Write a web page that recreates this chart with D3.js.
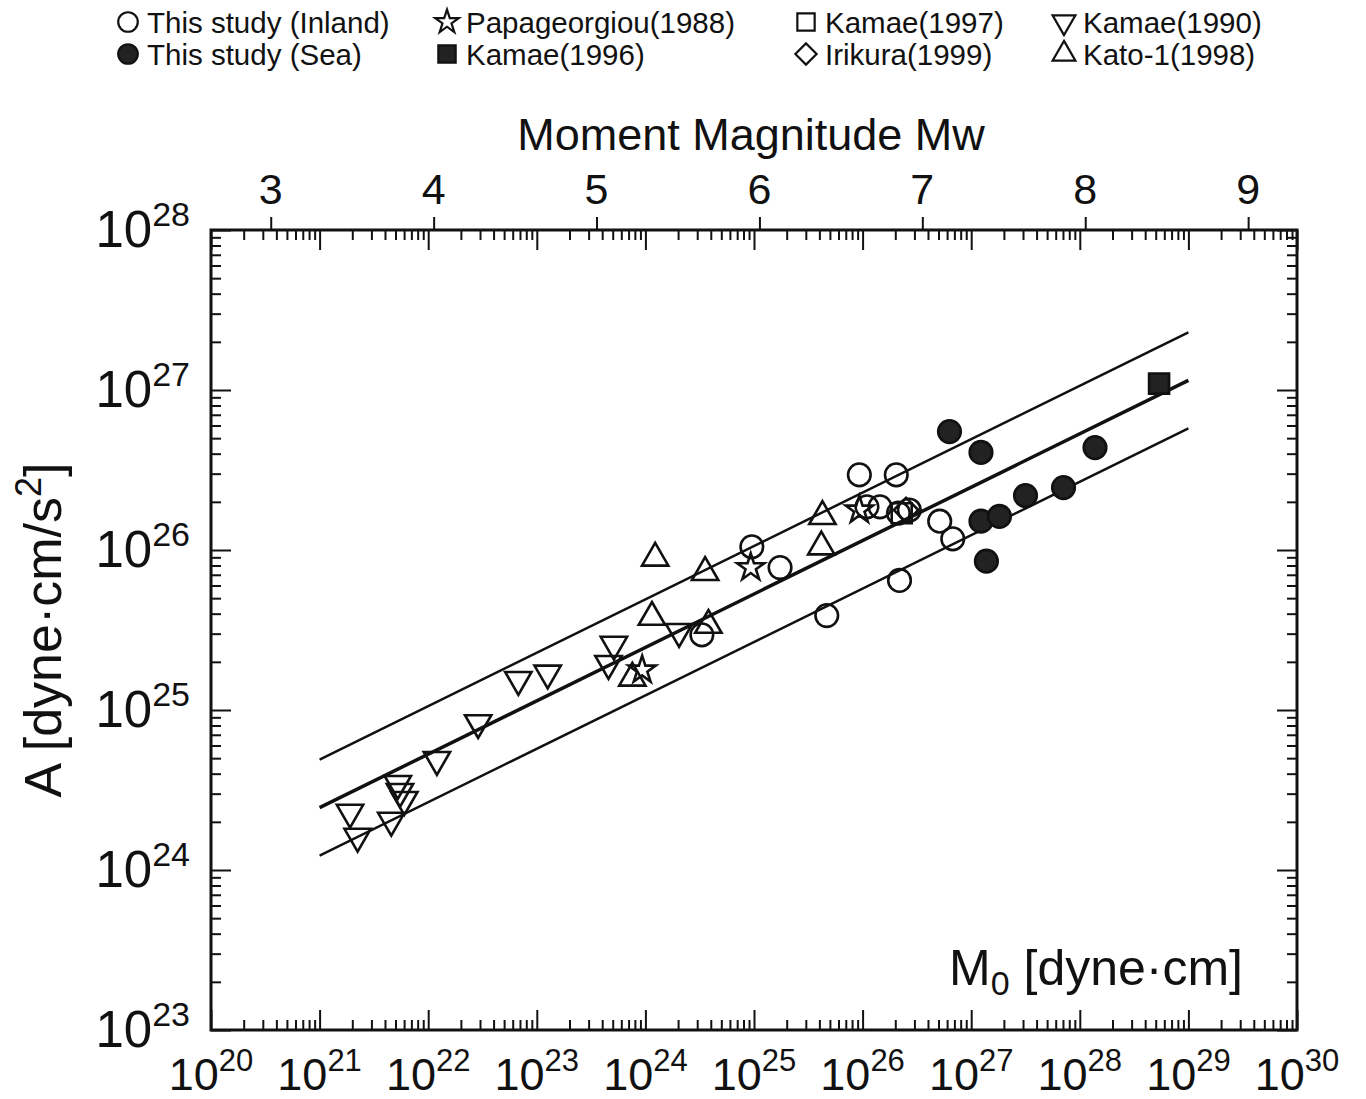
<!doctype html>
<html lang="en">
<head>
<meta charset="utf-8">
<title>A vs M0</title>
<style>
    body { margin: 0; background: #fff; }
    svg { display: block; font-family: 'Liberation Sans', Arial, sans-serif; }
</style>
</head>
<body>
<svg id="chart" width="1366" height="1099"></svg>
<script src="https://d3js.org/d3.v7.min.js"></script>
<script>
    // all values are log10 exponents
    var inlandM0 = [24.52, 24.98, 25.24, 25.67, 25.97, 26.31, 26.04, 26.16, 26.34, 26.71, 26.83, 26.33, 26.43];
    var inlandA  = [25.47, 26.02, 25.89, 25.59, 26.47, 26.47, 26.27, 26.27, 25.81, 26.18, 26.07, 26.23, 26.25];
    var seaM0 = [26.80, 27.09, 28.14, 27.50, 27.85, 27.09, 27.26, 27.14];
    var seaA  = [26.74, 26.61, 26.64, 26.34, 26.39, 26.18, 26.21, 25.93];
    var papaM0 = [23.97, 24.97, 25.97];
    var papaA  = [25.25, 25.89, 26.25];
    var k96M0 = [28.73];
    var k96A  = [27.04];
    var k97M0 = [26.36];
    var k97A  = [26.23];
    var irikuraM0 = [26.40];
    var irikuraA  = [26.25];
    var k90M0 = [21.28, 21.35, 21.66, 21.72, 21.74, 21.78, 22.08, 22.46, 22.83, 23.10, 23.66, 23.71, 24.31];
    var k90A  = [24.36, 24.21, 24.31, 24.54, 24.49, 24.44, 24.69, 24.92, 25.19, 25.23, 25.29, 25.41, 25.49];
    var katoM0 = [23.88, 24.06, 24.09, 24.55, 24.58, 25.63, 25.62];
    var katoA  = [25.20, 25.58, 25.95, 25.86, 25.53, 26.21, 26.02];

    // fitted line and the factor-of-two band, end points
    var fitM0 = [21, 29];
    var fitMid = [24.39, 27.06];
    var fitUpper = [24.69, 27.36];
    var fitLower = [24.09, 26.76];

    var xDecades = [20, 21, 22, 23, 24, 25, 26, 27, 28, 29, 30];
    var yDecades = [23, 24, 25, 26, 27, 28];
    var mwTicks = [3, 4, 5, 6, 7, 8, 9];

    var series = [
        { label: "This study (Inland)", shape: "circle", fill: false, m0: inlandM0, a: inlandA },
        { label: "This study (Sea)", shape: "circle", fill: true, m0: seaM0, a: seaA },
        { label: "Papageorgiou(1988)", shape: "star", fill: false, m0: papaM0, a: papaA },
        { label: "Kamae(1996)", shape: "square", fill: true, m0: k96M0, a: k96A },
        { label: "Kamae(1997)", shape: "square", fill: false, m0: k97M0, a: k97A },
        { label: "Irikura(1999)", shape: "diamond", fill: false, m0: irikuraM0, a: irikuraA },
        { label: "Kamae(1990)", shape: "triDown", fill: false, m0: k90M0, a: k90A },
        { label: "Kato-1(1998)", shape: "triUp", fill: false, m0: katoM0, a: katoA }
    ];

    var pLeft = 211, pRight = 1297, pTop = 230, pBottom = 1030;

    var svg = d3.select("#chart");
    svg.append("rect").attr("width", 1366).attr("height", 1099).attr("fill", "#fff");

    var x = d3.scaleLog().domain([1e20, 1e30]).range([pLeft, pRight]);
    var y = d3.scaleLog().domain([1e23, 1e28]).range([pBottom, pTop]);
    var p10 = function (v) { return Math.pow(10, v); };

    function isMajor(v) {
        var l = Math.log10(v);
        return Math.abs(l - Math.round(l)) < 1e-6;
    }

    function symbolPath(shape, scale) {
        scale = scale || 1;
        if (shape == "circle") return d3.symbol(d3.symbolCircle, 400 * scale)();
        if (shape == "star") return d3.symbol(d3.symbolStar, 230 * scale)();
        if (shape == "square") return d3.symbol(d3.symbolSquare, 400 * scale)();
        if (shape == "diamond") return d3.symbol(d3.symbolSquare, 300 * scale)();
        return d3.symbol(d3.symbolTriangle, 300 * scale)();
    }
    function symbolRotate(shape) {
        if (shape == "triDown") return " rotate(180)";
        if (shape == "diamond") return " rotate(45)";
        return "";
    }

    // ticks
    var xt = x.ticks(60);
    var yt = y.ticks(60);

    var gb = svg.append("g").attr("transform", "translate(0," + pBottom + ")")
        .call(d3.axisBottom(x).tickValues(xt).tickSize(-10).tickFormat("").tickSizeOuter(0));
    gb.selectAll(".tick line").attr("y2", function (d) { return isMajor(d) ? -20 : -10; });

    var gt = svg.append("g").attr("transform", "translate(0," + pTop + ")")
        .call(d3.axisTop(x).tickValues(xt).tickSize(-10).tickFormat("").tickSizeOuter(0));
    gt.selectAll(".tick line").attr("y2", function (d) { return isMajor(d) ? 20 : 10; });

    var gl = svg.append("g").attr("transform", "translate(" + pLeft + ",0)")
        .call(d3.axisLeft(y).tickValues(yt).tickSize(-10).tickFormat("").tickSizeOuter(0));
    gl.selectAll(".tick line").attr("x2", function (d) { return isMajor(d) ? 20 : 10; });

    var gr = svg.append("g").attr("transform", "translate(" + pRight + ",0)")
        .call(d3.axisRight(y).tickValues(yt).tickSize(-10).tickFormat("").tickSizeOuter(0));
    gr.selectAll(".tick line").attr("x2", function (d) { return isMajor(d) ? -20 : -10; });

    // moment magnitude on top, Mw = 2/3 log M0 - 10.7
    var mw = d3.scaleLinear().domain([3, 9])
        .range([x(p10(1.5 * (3 + 10.7))), x(p10(1.5 * (9 + 10.7)))]);
    svg.append("g").attr("transform", "translate(0," + pTop + ")")
        .call(d3.axisTop(mw).tickValues(mwTicks).tickSize(13).tickFormat("").tickSizeOuter(0));

    svg.selectAll(".domain").remove();
    svg.selectAll(".tick line").attr("stroke", "#111").attr("stroke-width", 2);

    svg.append("rect")
        .attr("x", pLeft).attr("y", pTop)
        .attr("width", pRight - pLeft).attr("height", pBottom - pTop)
        .attr("fill", "none").attr("stroke", "#111").attr("stroke-width", 3);

    svg.selectAll(".mwlab").data(mwTicks).join("text")
        .attr("x", function (d) { return mw(d); })
        .attr("y", 204)
        .attr("text-anchor", "middle")
        .attr("font-size", 43)
        .attr("fill", "#111")
        .text(function (d) { return d; });

    // decade labels with superscripts
    svg.selectAll(".xlab").data(xDecades).join("text")
        .attr("x", function (d) { return x(p10(d)); })
        .attr("y", 1090)
        .attr("text-anchor", "middle")
        .attr("font-size", 45)
        .attr("fill", "#111")
        .each(function (d) {
            var t = d3.select(this);
            t.append("tspan").text("10");
            t.append("tspan").attr("font-size", 31).attr("dy", -19).text(d);
        });

    svg.selectAll(".ylab").data(yDecades).join("text")
        .attr("x", 190)
        .attr("y", function (d) { return y(p10(d)) + 17; })
        .attr("text-anchor", "end")
        .attr("font-size", 51)
        .attr("fill", "#111")
        .each(function (d) {
            var t = d3.select(this);
            t.append("tspan").text("10");
            t.append("tspan").attr("font-size", 34).attr("dy", -21).text(d);
        });

    // titles
    svg.append("text")
        .attr("x", 751).attr("y", 150)
        .attr("text-anchor", "middle")
        .attr("font-size", 45)
        .attr("fill", "#111")
        .text("Moment Magnitude Mw");

    var yTitle = svg.append("text")
        .attr("transform", "translate(61,630) rotate(-90)")
        .attr("text-anchor", "middle")
        .attr("font-size", 52)
        .attr("fill", "#111");
    yTitle.append("tspan").text("A [dyne\u00b7cm/s");
    yTitle.append("tspan").attr("font-size", 36).attr("dy", -20).text("2");
    yTitle.append("tspan").attr("dy", 20).text("]");

    var xTitle = svg.append("text")
        .attr("x", 1243).attr("y", 985)
        .attr("text-anchor", "end")
        .attr("font-size", 50)
        .attr("fill", "#111");
    xTitle.append("tspan").text("M");
    xTitle.append("tspan").attr("font-size", 34).attr("dy", 10).text("0");
    xTitle.append("tspan").attr("dy", -10).text(" [dyne\u00b7cm]");

    // regression line and band
    var line = d3.line()
        .x(function (d) { return x(p10(d[0])); })
        .y(function (d) { return y(p10(d[1])); });
    [[fitUpper, 2.5], [fitMid, 3.5], [fitLower, 2.5]].forEach(function (f) {
        svg.append("path")
            .datum(fitM0.map(function (m, i) { return [m, f[0][i]]; }))
            .attr("d", line)
            .attr("fill", "none")
            .attr("stroke", "#111")
            .attr("stroke-width", f[1]);
    });

    // markers
    series.forEach(function (s) {
        var pts = s.m0.map(function (m, i) { return [m, s.a[i]]; });
        svg.append("g").selectAll("path").data(pts).join("path")
            .attr("transform", function (d) {
                return "translate(" + x(p10(d[0])) + "," + y(p10(d[1])) + ")" + symbolRotate(s.shape);
            })
            .attr("d", symbolPath(s.shape))
            .attr("fill", s.fill ? "#222" : "none")
            .attr("stroke", "#111")
            .attr("stroke-width", 2.6);
    });

    // legend
    var legendX = [128, 128, 447, 447, 806, 806, 1064, 1064];
    var legendY = [22, 54, 22, 54, 22, 54, 22, 54];
    series.forEach(function (s, i) {
        svg.append("path")
            .attr("transform", "translate(" + legendX[i] + "," + legendY[i] + ")" + symbolRotate(s.shape))
            .attr("d", symbolPath(s.shape, 0.75))
            .attr("fill", s.fill ? "#222" : "none")
            .attr("stroke", "#111")
            .attr("stroke-width", 2.2);
        svg.append("text")
            .attr("x", legendX[i] + 19)
            .attr("y", legendY[i] + 11)
            .attr("font-size", 29.5)
            .attr("fill", "#111")
            .text(s.label);
    });
</script>
</body>
</html>
